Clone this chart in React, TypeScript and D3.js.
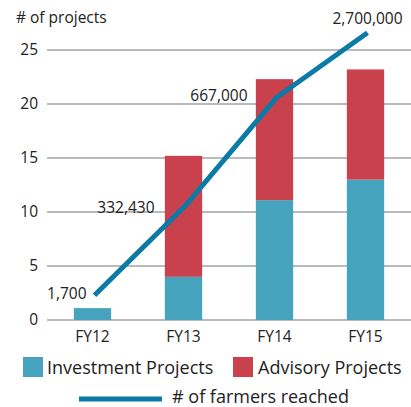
import React, { useEffect, useRef } from 'react';
import * as d3 from 'd3';

const years = ['FY12', 'FY13', 'FY14', 'FY15'];
const investment = [1.1, 4, 11.1, 13];
const advisory = [0, 11.2, 11.2, 10.2];
// line is drawn on the projects scale, labelled with the farmer counts
const farmersPlotted = [2.3, 10.6, 20.6, 26.6];
const farmersLabels = ['1,700', '332,430', '667,000', '2,700,000'];
const yTicks = [0, 5, 10, 15, 20, 25];

const width = 411;
const height = 407;

const App = () => {
  const svgRef = useRef<SVGSVGElement>(null);

  useEffect(() => {
    d3.select(svgRef.current).selectAll('*').remove();
    const svg = d3.select(svgRef.current);
    const font = '"Open Sans", Lato, sans-serif';

    const x = d3.scaleBand().domain(years).range([47, 411]).paddingInner(0.59).paddingOuter(0.295);
    const y = d3.scaleLinear().domain([0, 25]).range([320, 50]);

    // gridlines
    svg.append('g')
      .selectAll('line')
      .data(yTicks)
      .join('line')
      .attr('x1', 47)
      .attr('x2', 411)
      .attr('y1', d => y(d))
      .attr('y2', d => y(d))
      .attr('stroke', '#a3a3a6')
      .attr('stroke-width', 1.5);

    // y tick labels
    svg.append('g')
      .selectAll('text')
      .data(yTicks)
      .join('text')
      .attr('x', 38)
      .attr('y', d => y(d))
      .attr('dy', '0.35em')
      .attr('text-anchor', 'end')
      .attr('font-family', font)
      .attr('font-size', 15.5)
      .attr('fill', '#222')
      .text(d => d);

    svg.append('text')
      .attr('x', 16)
      .attr('y', 18)
      .attr('dy', '0.35em')
      .attr('font-family', font)
      .attr('font-size', 15.5)
      .attr('fill', '#222')
      .text('# of projects');

    // stacked bars
    const stacked = years.map((yr, i) => ({ yr, inv: investment[i], adv: advisory[i] }));
    const bars = svg.append('g');
    bars.selectAll('rect.inv')
      .data(stacked)
      .join('rect')
      .attr('class', 'inv')
      .attr('x', d => x(d.yr)!)
      .attr('width', x.bandwidth())
      .attr('y', d => y(d.inv))
      .attr('height', d => y(0) - y(d.inv))
      .attr('fill', '#45a3bd');
    bars.selectAll('rect.adv')
      .data(stacked.filter(d => d.adv > 0))
      .join('rect')
      .attr('class', 'adv')
      .attr('x', d => x(d.yr)!)
      .attr('width', x.bandwidth())
      .attr('y', d => y(d.inv + d.adv))
      .attr('height', d => y(d.inv) - y(d.inv + d.adv))
      .attr('fill', '#c9414c');

    // x labels
    svg.append('g')
      .selectAll('text')
      .data(years)
      .join('text')
      .attr('x', d => x(d)! + x.bandwidth() / 2)
      .attr('y', 337)
      .attr('dy', '0.35em')
      .attr('text-anchor', 'middle')
      .attr('font-family', font)
      .attr('font-size', 15.5)
      .attr('fill', '#222')
      .text(d => d);

    // farmers line
    const line = d3.line<number>()
      .x((d, i) => x(years[i])! + x.bandwidth() / 2 + 2)
      .y(d => y(d));
    svg.append('path')
      .datum(farmersPlotted)
      .attr('d', line)
      .attr('fill', 'none')
      .attr('stroke', '#0b7aa6')
      .attr('stroke-width', 5);

    // line labels
    const labelPos = [
      { dx: -6, dy: -2, anchor: 'end' },
      { dx: -29, dy: 2, anchor: 'end' },
      { dx: -27, dy: -2, anchor: 'end' },
      { dx: 2, dy: -14, anchor: 'middle' },
    ];
    svg.append('g')
      .selectAll('text')
      .data(farmersLabels)
      .join('text')
      .attr('x', (d, i) => x(years[i])! + x.bandwidth() / 2 + labelPos[i].dx)
      .attr('y', (d, i) => y(farmersPlotted[i]) + labelPos[i].dy)
      .attr('dy', '0.35em')
      .attr('text-anchor', (d, i) => labelPos[i].anchor)
      .attr('font-family', font)
      .attr('font-size', 15.5)
      .attr('fill', '#222')
      .text(d => d);

    // legend
    const legend = svg.append('g').attr('font-family', font).attr('font-size', 18).attr('fill', '#222');
    legend.append('rect').attr('x', 23).attr('y', 357).attr('width', 20).attr('height', 20).attr('fill', '#45a3bd');
    legend.append('text').attr('x', 47).attr('y', 368).attr('dy', '0.35em').text('Investment Projects');
    legend.append('rect').attr('x', 233).attr('y', 357).attr('width', 20).attr('height', 20).attr('fill', '#c9414c');
    legend.append('text').attr('x', 258).attr('y', 368).attr('dy', '0.35em').text('Advisory Projects');
    legend.append('line').attr('x1', 79).attr('x2', 162).attr('y1', 399).attr('y2', 399)
      .attr('stroke', '#0b7aa6').attr('stroke-width', 5);
    legend.append('text').attr('x', 172).attr('y', 397).attr('dy', '0.35em').text('# of farmers reached');
  }, []);

  return (
    <svg
      ref={svgRef}
      width={width}
      height={height}
      style={{ position: 'absolute', left: 0, top: 0, background: '#fff' }}
    />
  );
};

export default App;
